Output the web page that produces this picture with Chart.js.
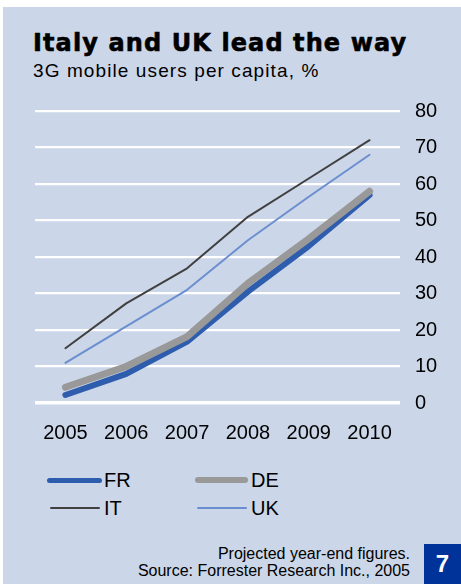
<!DOCTYPE html>
<html>
<head>
<meta charset="utf-8">
<script src="https://cdn.jsdelivr.net/npm/chart.js@4/dist/chart.umd.min.js"></script>
<style>
  html, body { margin: 0; padding: 0; background: #ffffff; }
  #page { position: relative; width: 461px; height: 584px; overflow: hidden; background: #ffffff; }
  #panel { position: absolute; left: 3px; top: 7px; width: 458px; height: 577px; background: #CBD6E8; }
  #title { position: absolute; left: 33px; top: 30px; font-family: "DejaVu Sans", sans-serif; font-weight: bold; font-size: 24px; letter-spacing: 1.1px; -webkit-text-stroke: 0.6px #000; color: #000; white-space: nowrap; line-height: 26px; }
  #subtitle { position: absolute; left: 33px; top: 61px; font-family: "Liberation Sans", Arial, sans-serif; font-size: 19px; letter-spacing: 1.1px; color: #000; white-space: nowrap; line-height: 20px; }
  #chartbox { position: absolute; left: 0; top: 84px; width: 461px; height: 376px; }
  .leg { position: absolute; font-family: "Liberation Sans", Arial, sans-serif; font-size: 20px; color: #000; line-height: 20px; }
  .legline { position: absolute; }
  #foot { position: absolute; right: 51px; top: 545px; text-align: right; font-family: "Liberation Sans", Arial, sans-serif; font-size: 16px; line-height: 17px; color: #000; white-space: nowrap; }
  #badge { position: absolute; left: 424px; top: 544px; width: 37px; height: 40px; background: #003399; color: #fff; font-family: "Liberation Sans", Arial, sans-serif; font-weight: bold; font-size: 24px; text-align: center; line-height: 40px; }
</style>
</head>
<body>
<div id="page">
  <div id="panel"></div>
  <div id="title">Italy and UK lead the way</div>
  <div id="subtitle">3G mobile users per capita, %</div>
  <div id="chartbox"><canvas id="c" width="461" height="376"></canvas></div>
  <div id="legend"></div>
  <div id="foot">Projected year-end figures.<br>Source: Forrester Research Inc., 2005</div>
  <div id="badge">7</div>
</div>
<script>
const categories = ["2005", "2006", "2007", "2008", "2009", "2010"];
const seriesNames = ["FR", "DE", "IT", "UK"];
const FR = [2.2, 8, 16.8, 30.5, 43, 57];
const DE = [4.3, 10, 18.2, 32.8, 45, 58];
const IT = [15, 27.3, 36.9, 51, 61.5, 72];
const UK = [11, 21, 31, 44.6, 56.5, 68];
const yTicks = [0, 10, 20, 30, 40, 50, 60, 70, 80];

const colors = ["#2F5DAE", "#999999", "#404040", "#6B8ED0"];
const widths = [6, 7, 2, 2];
const values = [FR, DE, IT, UK];

const datasets = seriesNames.map((n, i) => ({
  label: n,
  data: values[i],
  borderColor: colors[i],
  backgroundColor: colors[i],
  borderWidth: widths[i],
  pointRadius: 0,
  tension: 0,
  fill: false,
  borderCapStyle: "round",
  borderJoinStyle: "round",
  order: [3, 2, 1, 0][i]
}));

new Chart(document.getElementById("c"), {
  type: "line",
  data: { labels: categories, datasets },
  options: {
    responsive: false,
    animation: false,
    layout: { padding: { left: 35, top: 15, right: 0, bottom: 0 } },
    plugins: { legend: { display: false }, tooltip: { enabled: false } },
    scales: {
      x: {
        offset: true,
        grid: { display: false, drawTicks: false },
        border: { display: false },
        ticks: { color: "#000", padding: 18, font: { family: "Liberation Sans", size: 20 }, maxRotation: 0 },
        afterFit: s => { s.height = 57; }
      },
      y: {
        position: "right",
        min: 0, max: 80,
        afterBuildTicks: s => { s.ticks = yTicks.map(v => ({ value: v })); },
        grid: {
          color: "#ffffff",
          lineWidth: ctx => (ctx.tick && ctx.tick.value === 0 ? 3.5 : 2.2),
          drawTicks: false
        },
        border: { display: false },
        ticks: { color: "#000", padding: 15, font: { family: "Liberation Sans", size: 20 } },
        afterFit: s => { s.width = 61; }
      }
    }
  }
});

// HTML legend built from the series names and styles
const legPos = [
  { x: 47, y: 480, len: 55, tx: 104 },
  { x: 195, y: 480, len: 53, tx: 251 },
  { x: 50, y: 508, len: 50, tx: 104 },
  { x: 197, y: 508, len: 50, tx: 251 }
];
const legW = [5, 6, 2, 2];
const legend = document.getElementById("legend");
seriesNames.forEach((n, i) => {
  const p = legPos[i];
  const l = document.createElement("div");
  l.className = "legline";
  l.style.left = p.x + "px";
  l.style.top = (p.y - legW[i] / 2) + "px";
  l.style.width = p.len + "px";
  l.style.height = legW[i] + "px";
  l.style.background = colors[i];
  l.style.borderRadius = (legW[i] / 2) + "px";
  legend.appendChild(l);
  const t = document.createElement("div");
  t.className = "leg";
  t.style.left = p.tx + "px";
  t.style.top = (p.y - 10) + "px";
  t.textContent = n;
  legend.appendChild(t);
});
</script>
</body>
</html>
